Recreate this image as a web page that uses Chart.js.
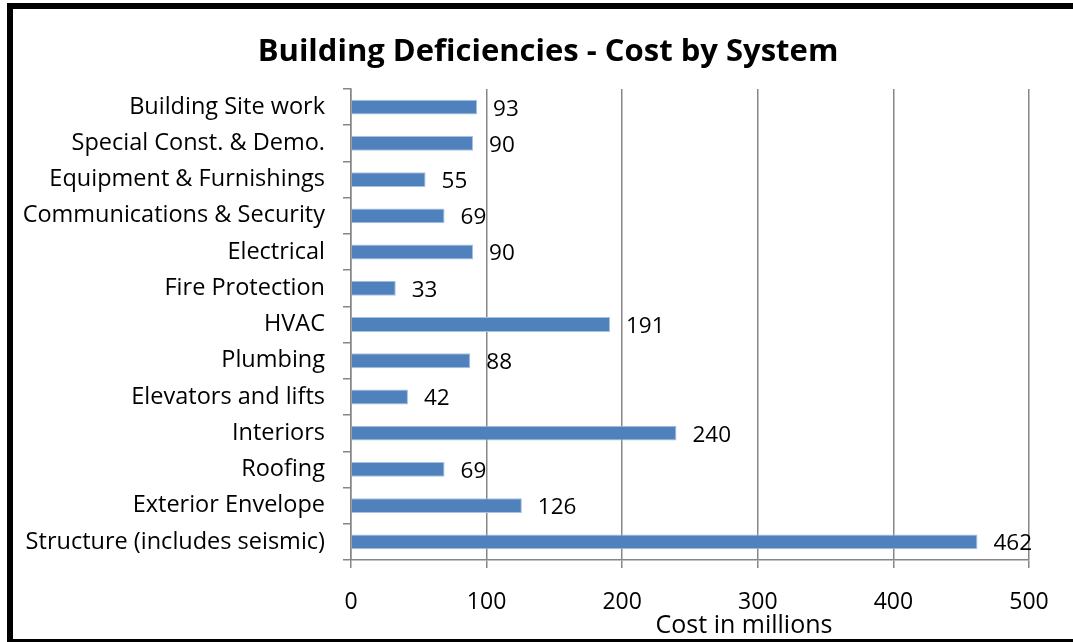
<!DOCTYPE html>
<html>
<head>
<meta charset="utf-8">
<script src="https://cdn.jsdelivr.net/npm/chart.js@4"></script>
<style>
    html, body { margin: 0; padding: 0; background: #fff; overflow: hidden; }
    #wrap { position: relative; width: 1073px; height: 642px; }
    #frame {
        position: absolute; left: 7px; top: 3px; width: 1080px; height: 630px;
        border: 6px solid #000; box-sizing: content-box; pointer-events: none;
    }
    canvas { position: absolute; left: 0; top: 0; }
</style>
</head>
<body>
<div id="wrap">
    <canvas id="costChart" width="1073" height="642"></canvas>
    <div id="frame"></div>
</div>
<script>
// systems, listed top to bottom
const systems = [
    'Building Site work',
    'Special Const. & Demo.',
    'Equipment & Furnishings',
    'Communications & Security',
    'Electrical',
    'Fire Protection',
    'HVAC',
    'Plumbing',
    'Elevators and lifts',
    'Interiors',
    'Roofing',
    'Exterior Envelope',
    'Structure (includes seismic)'
];
// cost in millions
const costs = [93, 90, 55, 69, 90, 33, 191, 88, 42, 240, 69, 126, 462];
const costTicks = [0, 100, 200, 300, 400, 500];

const FONT = '"Open Sans", sans-serif';
const GRID = '#868686';

// value labels to the right of each bar
const valueLabels = {
    id: 'valueLabels',
    afterDatasetsDraw(chart) {
        const ctx = chart.ctx;
        const meta = chart.getDatasetMeta(0);
        ctx.save();
        ctx.font = `22.5px ${FONT}`;
        ctx.fillStyle = '#000';
        ctx.textAlign = 'left';
        ctx.textBaseline = 'middle';
        meta.data.forEach((bar, i) => {
            ctx.fillText(String(costs[i]), bar.x + 16, bar.y + 2);
        });
        ctx.restore();
    }
};

// chart heading and axis caption
const captions = {
    id: 'captions',
    afterDraw(chart) {
        const ctx = chart.ctx;
        const area = chart.chartArea;
        ctx.save();
        ctx.fillStyle = '#000';
        ctx.textAlign = 'center';
        ctx.textBaseline = 'middle';
        ctx.font = `bold 31px ${FONT}`;
        ctx.fillText('Building Deficiencies - Cost by System', 548, 52);
        ctx.font = `25px ${FONT}`;
        ctx.fillText('Cost in millions', area.left + 393, 626);
        ctx.restore();
    }
};

new Chart(document.getElementById('costChart'), {
    type: 'bar',
    data: {
        labels: systems,
        datasets: [{
            data: costs,
            backgroundColor: '#4F81BD',
            borderColor: '#a9c1df',
            borderWidth: 1,
            barPercentage: 0.41,
            categoryPercentage: 1
        }]
    },
    options: {
        indexAxis: 'y',
        responsive: false,
        animation: false,
        layout: { padding: { top: 89, right: 44, left: 0, bottom: 0 } },
        plugins: {
            legend: { display: false },
            tooltip: { enabled: false }
        },
        scales: {
            x: {
                min: 0,
                max: 500,
                afterBuildTicks(scale) {
                    scale.ticks = costTicks.map(v => ({ value: v }));
                },
                afterFit(scale) { scale.height = 82; },
                grid: { color: GRID, lineWidth: 1.5, tickLength: 8 },
                border: { color: GRID, width: 1.5 },
                ticks: {
                    color: '#000',
                    padding: 21,
                    font: { family: FONT, size: 23 }
                }
            },
            y: {
                afterFit(scale) { scale.width = 351; },
                grid: { drawOnChartArea: false, color: GRID, lineWidth: 1.5, tickLength: 8 },
                border: { color: GRID, width: 1.5 },
                ticks: {
                    color: '#000',
                    padding: 18,
                    font: { family: FONT, size: 23.5 }
                }
            }
        }
    },
    plugins: [valueLabels, captions]
});
</script>
</body>
</html>
